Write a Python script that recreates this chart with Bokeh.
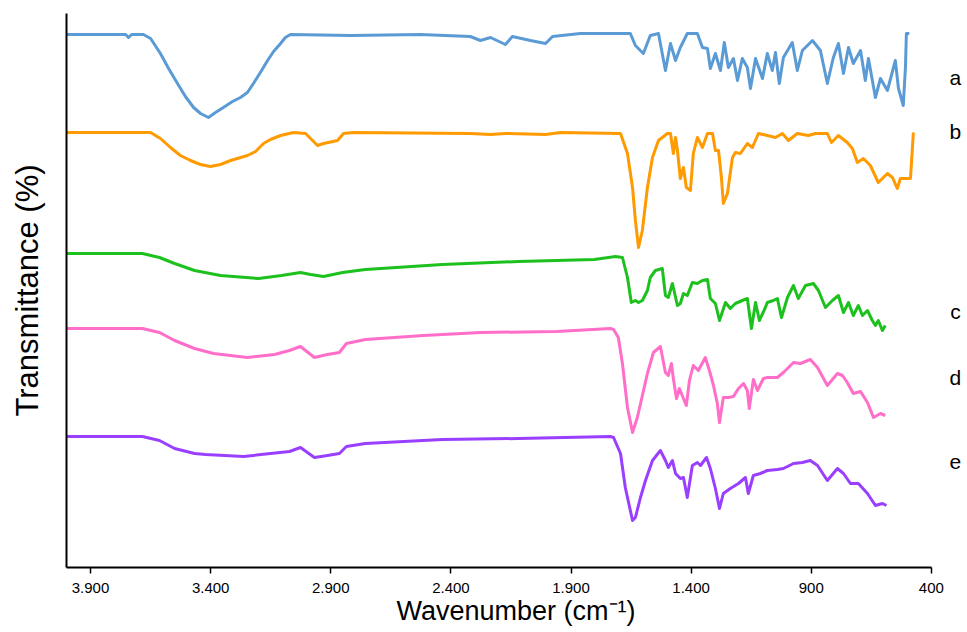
from bokeh.plotting import figure
from bokeh.models import Range1d, FixedTicker
from bokeh.core.properties import value
from bokeh.embed import file_html
from bokeh.resources import INLINE

# ---- data: wavenumber (cm-1) and relative transmittance (%) ----
wn_a = [4000, 3754, 3742, 3729, 3680, 3650, 3609, 3575, 3538, 3505, 3471, 3442, 3409, 3380, 3347, 3309,
        3276, 3247, 3222, 3193, 3163, 3138, 3109, 3089, 3068,
        2818, 2527, 2319, 2277, 2235, 2173, 2144, 2069, 2006, 1977, 1861, 1653, 1632, 1599, 1570, 1536,
        1507, 1486, 1465, 1445, 1416, 1374, 1353, 1332, 1320, 1299, 1278, 1262, 1245, 1224, 1207, 1187,
        1166, 1153, 1132, 1103, 1083, 1062, 1049, 1033, 1016, 979, 958, 937, 895, 862, 833, 808, 787,
        766, 745, 725, 695, 675, 662, 633, 612, 583, 550, 537, 517, 508, 504, 492]
t_a = [100, 100, 98.5, 100, 100, 98, 90.5, 83, 75.5, 69, 63.5, 60.5, 58.5, 61, 63.5, 66.5,
       68.5, 71, 75.5, 81, 87, 91.5, 95.5, 98.5, 100,
       99.5, 100, 99, 97, 98.5, 95, 99, 97, 95.5, 99, 100.5, 100.5, 94.5, 90.5, 99.5, 100.5,
       82, 95.5, 87, 93.5, 100.5, 100.5, 93.5, 93, 83, 90.5, 82, 96, 83.5, 88, 77, 88,
       83.5, 73, 88, 78, 90.5, 82, 91, 75.5, 88.5, 96, 82, 92, 97, 92, 75.5, 88.5, 95.5,
       80.5, 93.5, 85.5, 92, 77, 88, 68.5, 78, 72, 87, 73, 64.5, 83.5, 100.5, 100.5]

wn_b = [4000, 3650, 3609, 3567, 3526, 3484, 3442, 3401, 3359, 3317, 3247, 3213, 3180, 3151, 3109, 3055,
        3005, 2955, 2930, 2872, 2847, 2806,
        2319, 2235, 2173, 2006, 1944, 1694, 1665, 1644, 1632, 1619, 1603, 1582, 1561, 1536, 1499, 1486,
        1474, 1465, 1457, 1445, 1432, 1420, 1403, 1391, 1374, 1353, 1332, 1311, 1299, 1286, 1274, 1266,
        1249, 1228, 1216, 1195, 1166, 1145, 1120, 1083, 1049, 1020, 995, 958, 912, 883, 833, 816, 787,
        750, 729, 708, 683, 654, 621, 583, 562, 542, 529, 487, 475]
t_b = [100, 100, 97, 92.5, 88.5, 86, 84, 83, 84, 86, 88.5, 90.5, 94.5, 96.5, 98.5, 100,
       99.5, 93.5, 94.5, 96, 99.5, 100,
       99.5, 99, 99.5, 99, 100, 99.5, 89.5, 72.5, 56, 42.5, 51, 72.5, 87.5, 96, 99.5, 99.5,
       89.5, 97.5, 91, 77, 82.5, 72.5, 71, 89.5, 97.5, 92.5, 99.5, 99.5, 91, 91, 77.5, 64.5,
       69.5, 87.5, 90, 89.5, 94.5, 92.5, 99.5, 98.5, 97.5, 99.5, 96, 99.5, 98.5, 99.5, 99.5, 95, 98.5,
       95, 92, 85, 87, 83.5, 75, 79.5, 77.5, 72, 77, 77, 100]

wn_c = [4000, 3684, 3613, 3550, 3467, 3359, 3201, 3105, 3026, 2984, 2930, 2851, 2756, 2435, 2119, 1803,
        1715, 1686, 1665, 1649,
        1632, 1619, 1603, 1582, 1570, 1549, 1520, 1507, 1495, 1478, 1457, 1445, 1432, 1416, 1395, 1374,
        1353, 1332, 1320, 1299, 1282, 1257, 1237, 1216, 1187, 1166, 1149, 1132, 1116, 1091, 1083, 1058,
        1041, 1024, 999, 974, 954, 924, 891, 870, 841, 812, 787, 766, 745, 725, 704, 687, 666, 646,
        633, 621, 604, 592]
t_c = [100, 100, 98, 95, 91.5, 89, 87.5, 89, 90.5, 89.5, 88.5, 90.5, 92, 94.5, 96, 97,
       98.5, 98, 88, 75.5,
       76.5, 75.5, 76.5, 81.5, 88, 91.5, 92.5, 79, 78, 85, 74, 75, 80, 79, 85.5, 85,
       86.5, 87, 77.5, 75, 66.5, 75.5, 72.5, 75, 76.5, 77.5, 62.5, 75.5, 66.5, 73, 75.5, 76.5,
       77.5, 68, 78, 84, 77.5, 84, 85, 81.5, 73, 76.5, 79, 70.5, 75.5, 69, 74, 69, 71.5, 66.5,
       64, 66.5, 61.5, 64]

wn_d = [4000, 3684, 3613, 3550, 3467, 3388, 3247, 3134, 3072, 3026, 2968, 2914, 2864, 2835, 2756, 2514,
        2277, 1961, 1736,
        1723, 1703, 1686, 1665, 1644, 1624, 1603, 1582, 1557, 1528, 1507, 1495, 1482, 1474, 1461, 1449,
        1432, 1420, 1407, 1391, 1370, 1341, 1324, 1307, 1291, 1282, 1266, 1245, 1224, 1203, 1182, 1166,
        1158, 1141, 1124, 1099, 1083, 1041, 1016, 974, 945, 904, 874, 833, 791, 770, 750, 725, 695,
        666, 641, 612, 592]
t_d = [100, 100, 98, 94, 90, 87.5, 85.5, 87, 89, 91, 85.5, 87, 88, 92.5, 94.5, 96.5,
       98, 98.5, 100,
       99.5, 95.5, 82.5, 60.5, 48, 55.5, 66.5, 77.5, 88, 91, 78, 76.5, 82.5, 75, 65, 70,
       65, 61.5, 74, 81.5, 79, 85.5, 79, 71.5, 62.5, 53, 65.5, 65.5, 66, 70, 72.5, 69,
       60, 74.5, 69, 75, 75.5, 75.5, 78, 83, 82.5, 84.5, 80.5, 71.5, 77.5, 76.5, 73, 67.5, 68.5,
       63, 55.5, 57.5, 56.5]

wn_e = [4000, 3684, 3613, 3550, 3467, 3421, 3263, 3072, 3026, 2968, 2914, 2864, 2835, 2756, 2435, 2119,
        1736, 1723, 1694,
        1674, 1644, 1632, 1611, 1590, 1561, 1528, 1507, 1495, 1478, 1465, 1445, 1432, 1416, 1395, 1374,
        1361, 1336, 1320, 1299, 1282, 1266, 1237, 1203, 1174, 1162, 1141, 1112, 1083, 1041, 1016, 974,
        937, 904, 874, 833, 791, 766, 737, 704, 666, 633, 604, 587]
t_e = [100, 100, 98, 94, 91.5, 91, 90, 92.5, 94.5, 89.5, 90.5, 91.5, 95, 96.5, 98.5, 99,
       100, 99.5, 91.5,
       74.5, 58, 59.5, 69.5, 78, 88, 93, 88, 84.5, 88, 81.5, 79, 79.5, 69.5, 85.5, 87,
       85.5, 89.5, 84, 74, 64, 71.5, 74, 76.5, 79.5, 71.5, 80.5, 81.5, 83, 83.5, 84, 86.5,
       87, 88, 85.5, 78, 84, 81.5, 76.5, 76.5, 71.5, 65.5, 66.5, 65.5]

series_names = ["a", "b", "c", "d", "e"]
x_ticks = [3900, 3400, 2900, 2400, 1900, 1400, 900, 400]
x_tick_labels = ["3.900", "3.400", "2.900", "2.400", "1.900", "1.400", "900", "400"]

# ---- layout / style ----
offsets = [166.5, 117.5, 57, 19.5, -34.5]          # vertical stacking of the spectra
label_x = 300                                      # letters sit just right of the axis end
label_y = [245, 218, 128, 95, 53]
colors = ["#5B9BD5", "#FF9A00", "#1DC11D", "#FF6EC8", "#9A3FFF"]
FONT = "Liberation Sans"

p = figure(width=965, height=630, output_backend="svg", toolbar_location=None,
           x_range=Range1d(4000, 258), y_range=Range1d(0, 277),
           min_border_left=66, min_border_right=0, min_border_top=13, min_border_bottom=63)
p.outline_line_color = None
p.xgrid.visible = False
p.ygrid.visible = False
p.background_fill_color = "white"
p.border_fill_color = "white"

spectra = [(wn_a, t_a), (wn_b, t_b), (wn_c, t_c), (wn_d, t_d), (wn_e, t_e)]
for (wn, t), off, col in zip(spectra, offsets, colors):
    p.line(wn, [v + off for v in t], line_color=col, line_width=3, line_join="round")

p.text(x=[label_x] * len(series_names), y=label_y, text=series_names,
       text_align="center", text_baseline="middle",
       text_font=value(FONT), text_font_size="21px", text_color="black")

xa = p.xaxis[0]
xa.bounds = (400, 4000)
xa.ticker = FixedTicker(ticks=x_ticks)
xa.major_label_overrides = {k: v for k, v in zip(x_ticks, x_tick_labels)}
xa.minor_tick_line_color = None
xa.major_tick_in = 0
xa.major_tick_out = 6
xa.major_tick_line_color = "black"
xa.major_tick_line_width = 1.5
xa.axis_line_color = "black"
xa.axis_line_width = 2
xa.major_label_text_font = FONT
xa.major_label_text_font_size = "15px"
xa.major_label_text_color = "black"
xa.major_label_standoff = 9
xa.axis_label = "Wavenumber (cm\u207b\u00b9)"
xa.axis_label_text_font = FONT
xa.axis_label_text_font_size = "27px"
xa.axis_label_text_font_style = "normal"
xa.axis_label_text_color = "black"
xa.axis_label_standoff = 0

ya = p.yaxis[0]
ya.ticker = FixedTicker(ticks=[])
ya.major_tick_line_color = None
ya.minor_tick_line_color = None
ya.major_label_text_font_size = "0px"
ya.axis_line_color = "black"
ya.axis_line_width = 2
ya.axis_label = "Transmittance (%)"
ya.axis_label_text_font = FONT
ya.axis_label_text_font_size = "31px"
ya.axis_label_text_font_style = "normal"
ya.axis_label_text_color = "black"
ya.axis_label_standoff = 22

open("out.html", "w").write(file_html(p, INLINE))
